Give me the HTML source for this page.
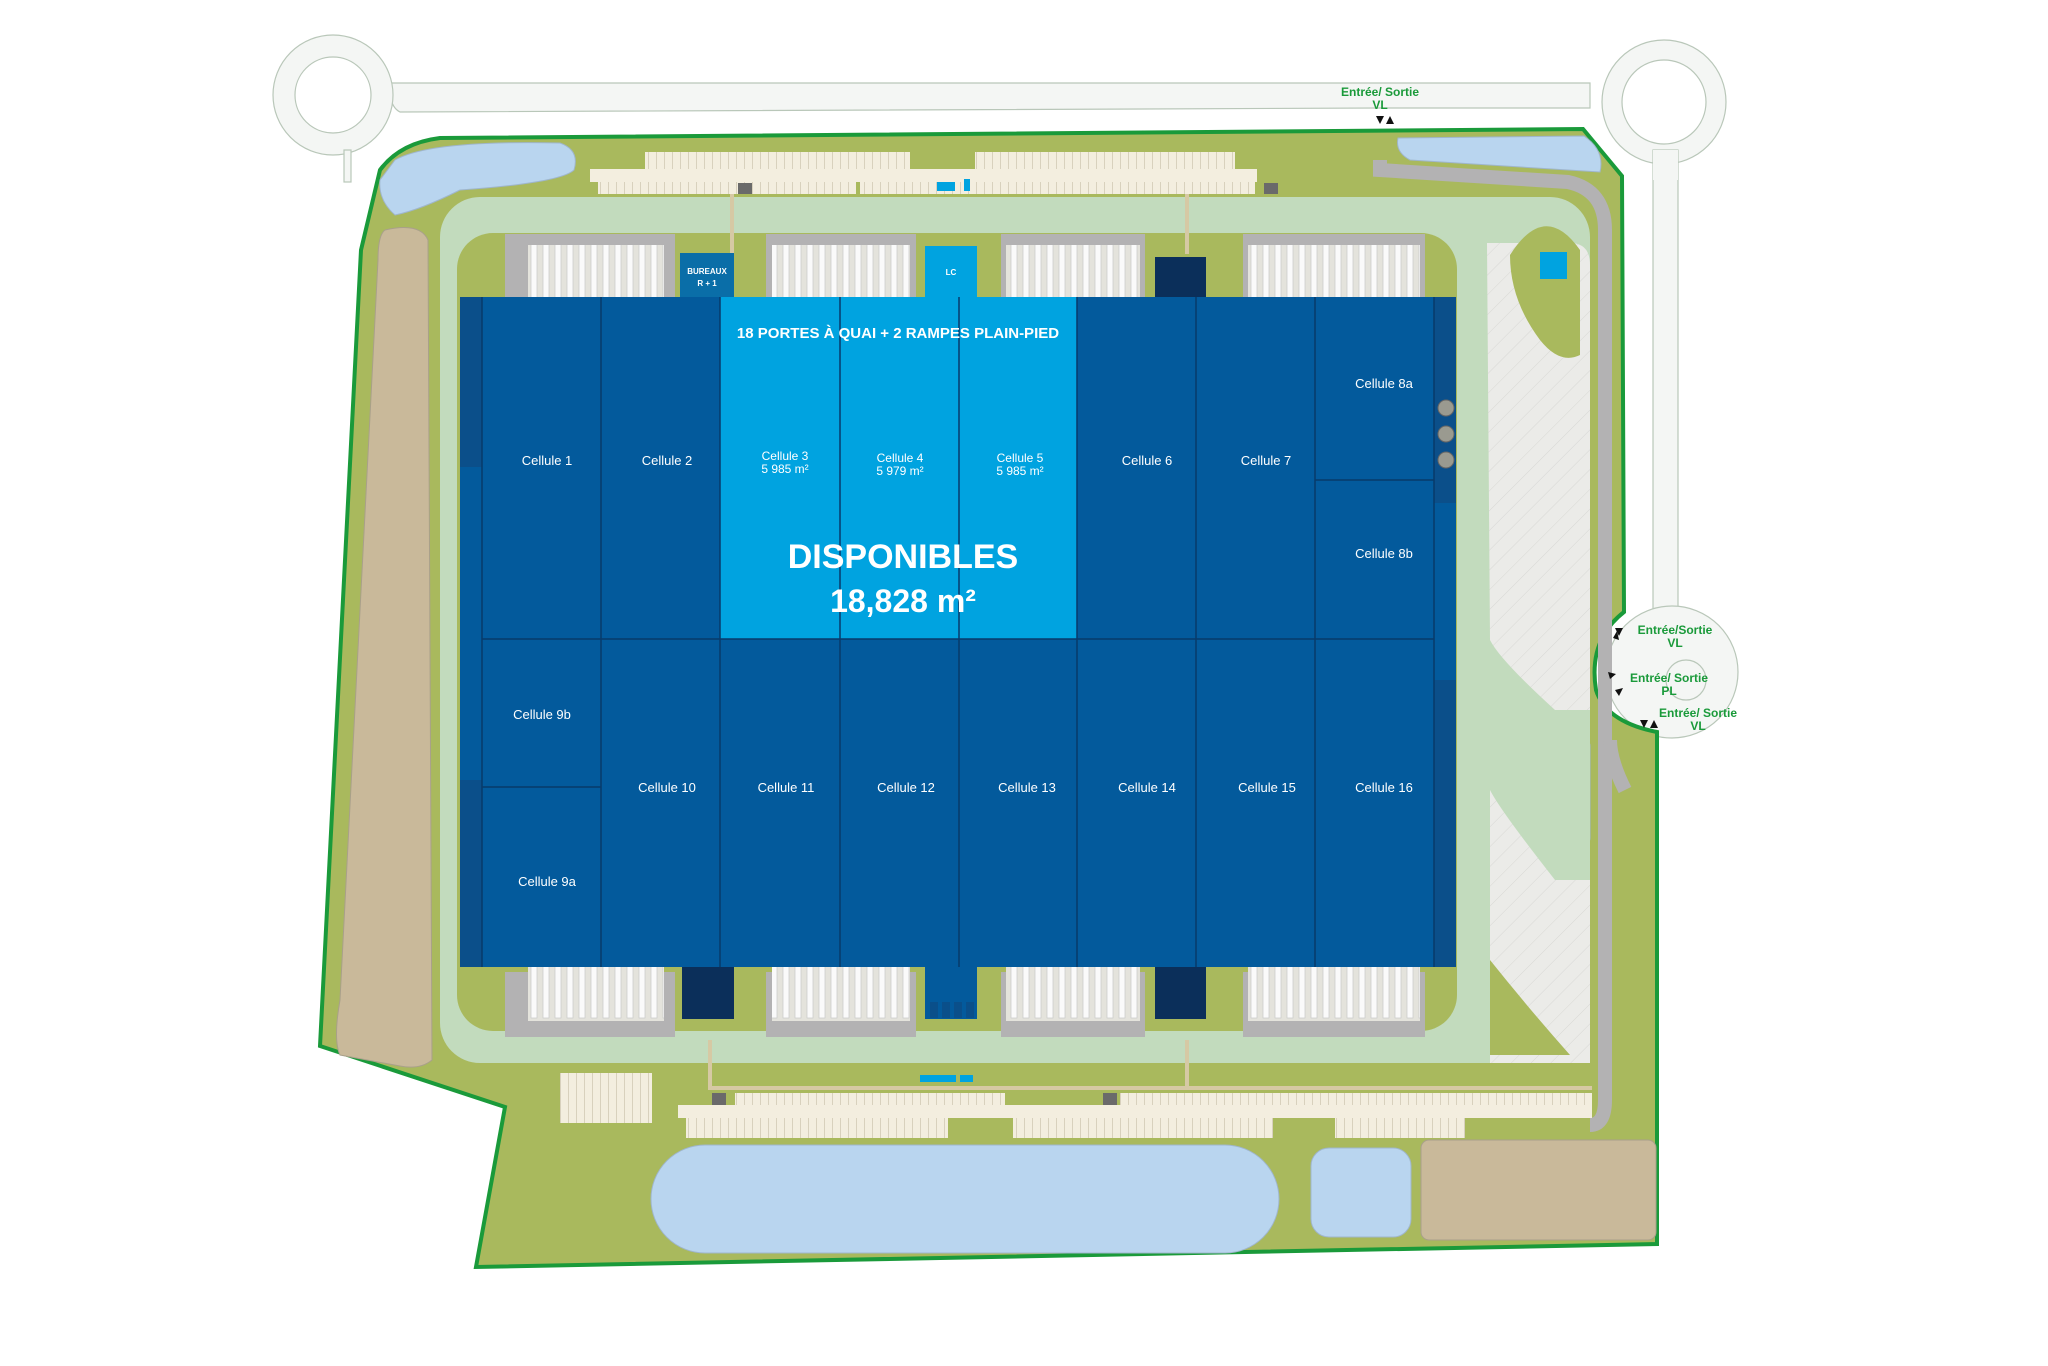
<!DOCTYPE html>
<html><head><meta charset="utf-8"><style>
html,body{margin:0;padding:0;background:#fff}
svg{display:block}
text{font-family:"Liberation Sans",sans-serif}
</style></head><body>
<svg width="2048" height="1366" viewBox="0 0 2048 1366" xmlns="http://www.w3.org/2000/svg">
<defs>
<pattern id="truck" width="12" height="60" patternUnits="userSpaceOnUse">
<rect width="12" height="60" fill="#e4e3dc"/><rect x="3" y="2" width="6" height="56" fill="#fafafa" stroke="#c8c8c8" stroke-width="0.7"/>
</pattern>
<pattern id="park" width="8" height="20" patternUnits="userSpaceOnUse">
<rect width="8" height="20" fill="#f3eedf"/><line x1="0.5" y1="0" x2="0.5" y2="20" stroke="#d8d1bd" stroke-width="1"/>
</pattern>
<pattern id="hatch" width="14" height="14" patternUnits="userSpaceOnUse" patternTransform="rotate(45)">
<rect width="14" height="14" fill="#ebebe8"/><line x1="0" y1="0" x2="0" y2="14" stroke="#d8d8d4" stroke-width="1"/>
</pattern>
</defs>

<!-- top road -->
<g fill="#f4f6f4" stroke="#b9c7b9" stroke-width="1.2">
<path d="M388,83 L1590,83 L1590,108 L1380,108 L400,112 Q392,108 390,95 Z"/>
<circle cx="333" cy="95" r="60"/>
<circle cx="1664" cy="102" r="62"/>
<rect x="1653" y="150" width="25" height="480"/>
<rect x="344" y="150" width="7" height="32"/>
</g>
<circle cx="333" cy="95" r="38" fill="#fff" stroke="#b9c7b9" stroke-width="1.2"/>
<circle cx="1664" cy="102" r="42" fill="#fff" stroke="#b9c7b9" stroke-width="1.2"/>
<rect x="1653" y="150" width="25" height="30" fill="#f4f6f4"/>

<!-- right entrance circle -->
<circle cx="1672" cy="672" r="66" fill="#f4f6f4" stroke="#b9c7b9" stroke-width="1.2"/>
<circle cx="1686" cy="680" r="20" fill="none" stroke="#b9c7b9" stroke-width="1.2"/>

<!-- site polygon -->
<path d="M440,138 L1583,129 L1622,176 L1624,612 Q1588,640 1596,690 Q1606,722 1657,732 L1657,1244 L476,1267 L505,1107 L320,1046 L361,250 L380,170 Q400,143 440,138 Z" fill="#a9b95d" stroke="#1a9a3a" stroke-width="4"/>

<!-- tan left strip -->
<path d="M385,230 Q420,222 428,240 L432,1060 Q420,1070 400,1066 L340,1055 Q333,1040 340,1000 L378,260 Q378,235 385,230 Z" fill="#c9b99a" stroke="#a9a08a" stroke-width="1"/>

<!-- ponds -->
<path d="M395,160 Q430,140 560,143 Q580,150 574,170 Q560,183 460,190 Q420,210 395,215 Q378,200 380,180 Z" fill="#b9d5ef" stroke="#9fb6cc"/>
<path d="M1398,138 L1584,136 Q1605,150 1600,172 L1410,160 Q1395,152 1398,138 Z" fill="#b9d5ef" stroke="#9fb6cc"/>
<rect x="651" y="1145" width="628" height="108" rx="54" fill="#b9d5ef" stroke="#9fb6cc"/>
<rect x="1311" y="1148" width="100" height="89" rx="18" fill="#b9d5ef" stroke="#9fb6cc"/>
<rect x="1421" y="1140" width="235" height="100" rx="8" fill="#c9b99a" stroke="#a9a08a"/>
<rect x="1548" y="738" width="42" height="108" rx="8" fill="#b9d5ef" stroke="#9fb6cc"/>

<!-- grey ring road right -->
<path d="M1380,160 L1380,170 L1568,182 Q1605,190 1605,230 L1605,1100 Q1605,1125 1590,1125" fill="none" stroke="#b3b2b3" stroke-width="14"/>
<path d="M1625,790 Q1610,760 1610,740" fill="none" stroke="#b3b2b3" stroke-width="14"/>

<!-- light green ring -->
<rect x="440" y="197" width="1150" height="866" rx="40" fill="#c2dbbd"/>
<path d="M1487,243 L1570,243 Q1590,243 1590,265 L1590,710 L1555,710 Q1500,660 1490,640 Z" fill="url(#hatch)"/>
<path d="M1490,790 Q1500,810 1555,880 L1590,880 L1590,1063 L1490,1063 Z" fill="url(#hatch)"/>
<path d="M1510,255 Q1545,200 1580,250 L1580,355 Q1560,365 1540,340 Q1510,300 1510,255 Z" fill="#a9b95d"/>
<rect x="1540" y="252" width="27" height="27" fill="#00a3e0"/>
<path d="M1490,960 Q1530,1010 1570,1055 L1490,1055 Z" fill="#a9b95d"/>

<!-- inner olive around building -->
<rect x="457" y="233" width="1000" height="798" rx="36" fill="#a9b95d"/>

<!-- top parking -->
<rect x="645" y="152" width="265" height="17" fill="url(#park)"/>
<rect x="975" y="152" width="260" height="17" fill="url(#park)"/>
<rect x="590" y="169" width="667" height="13" fill="#f3eedf"/>
<rect x="598" y="182" width="258" height="12" fill="url(#park)"/>
<rect x="860" y="182" width="395" height="12" fill="url(#park)"/>
<rect x="738" y="183" width="14" height="11" fill="#6a6a6a"/>
<rect x="1264" y="183" width="14" height="11" fill="#6a6a6a"/>
<rect x="937" y="182" width="18" height="9" fill="#00a3e0"/><rect x="964" y="179" width="6" height="12" fill="#00a3e0"/>
<rect x="730" y="194" width="4" height="60" fill="#d6c9a4"/>
<rect x="1185" y="194" width="4" height="60" fill="#d6c9a4"/>

<!-- bottom parking -->
<rect x="735" y="1093" width="270" height="12" fill="url(#park)"/>
<rect x="1120" y="1093" width="472" height="12" fill="url(#park)"/>
<rect x="678" y="1105" width="914" height="13" fill="#f3eedf"/>
<rect x="686" y="1118" width="262" height="20" fill="url(#park)"/>
<rect x="1013" y="1118" width="260" height="20" fill="url(#park)"/>
<rect x="1335" y="1118" width="130" height="20" fill="url(#park)"/>
<rect x="560" y="1073" width="92" height="50" fill="url(#park)"/>
<rect x="712" y="1093" width="14" height="12" fill="#6a6a6a"/>
<rect x="1103" y="1093" width="14" height="12" fill="#6a6a6a"/>
<path d="M710,1040 L710,1088 L1592,1088" fill="none" stroke="#d6c9a4" stroke-width="4"/>
<rect x="1185" y="1040" width="4" height="48" fill="#d6c9a4"/>
<rect x="920" y="1075" width="36" height="7" fill="#00a3e0"/><rect x="960" y="1075" width="13" height="7" fill="#00a3e0"/>

<!-- docks -->
<g>
<rect x="505" y="234" width="170" height="65" fill="#b3b2b3"/>
<rect x="766" y="234" width="150" height="65" fill="#b3b2b3"/>
<rect x="1001" y="234" width="144" height="65" fill="#b3b2b3"/>
<rect x="1243" y="234" width="182" height="65" fill="#b3b2b3"/>
<rect x="528" y="245" width="136" height="54" fill="url(#truck)"/>
<rect x="772" y="245" width="138" height="54" fill="url(#truck)"/>
<rect x="1006" y="245" width="134" height="54" fill="url(#truck)"/>
<rect x="1248" y="245" width="172" height="54" fill="url(#truck)"/>
<rect x="505" y="972" width="170" height="65" fill="#b3b2b3"/>
<rect x="766" y="972" width="150" height="65" fill="#b3b2b3"/>
<rect x="1001" y="972" width="144" height="65" fill="#b3b2b3"/>
<rect x="1243" y="972" width="182" height="65" fill="#b3b2b3"/>
<rect x="528" y="967" width="136" height="54" fill="url(#truck)"/>
<rect x="772" y="967" width="138" height="54" fill="url(#truck)"/>
<rect x="1006" y="967" width="134" height="54" fill="url(#truck)"/>
<rect x="1248" y="967" width="172" height="54" fill="url(#truck)"/>
</g>

<!-- offices -->
<rect x="680" y="253" width="54" height="44" fill="#0a6ea8"/>
<text x="707" y="274" font-size="8" fill="#fff" text-anchor="middle" font-weight="bold">BUREAUX</text>
<text x="707" y="286" font-size="8" fill="#fff" text-anchor="middle" font-weight="bold">R + 1</text>
<rect x="925" y="246" width="52" height="51" fill="#00a3e0"/>
<text x="951" y="275" font-size="8" fill="#fff" text-anchor="middle" font-weight="bold">LC</text>
<rect x="1155" y="257" width="51" height="40" fill="#0b2f5a"/>
<rect x="682" y="967" width="52" height="52" fill="#0b2f5a"/>
<rect x="1155" y="967" width="51" height="52" fill="#0b2f5a"/>
<rect x="925" y="967" width="52" height="52" fill="#035a9c"/>
<g fill="#0a4f8a"><rect x="930" y="1002" width="8" height="16"/><rect x="942" y="1002" width="8" height="16"/><rect x="954" y="1002" width="8" height="16"/><rect x="966" y="1002" width="8" height="16"/></g>

<!-- building -->
<rect x="460" y="297" width="996" height="670" fill="#035a9c"/>
<rect x="720" y="297" width="357" height="342" fill="#00a3e0"/>
<rect x="460" y="297" width="22" height="170" fill="#0b4f8a"/>
<rect x="460" y="780" width="22" height="187" fill="#0b4f8a"/>
<rect x="1434" y="297" width="22" height="206" fill="#0b4f8a"/>
<rect x="1434" y="680" width="22" height="287" fill="#0b4f8a"/>
<g stroke="#083a6a" stroke-width="1.5" fill="none">
<line x1="482" y1="297" x2="482" y2="967"/>
<line x1="601" y1="297" x2="601" y2="967"/>
<line x1="720" y1="297" x2="720" y2="967"/>
<line x1="840" y1="297" x2="840" y2="967"/>
<line x1="959" y1="297" x2="959" y2="967"/>
<line x1="1077" y1="297" x2="1077" y2="967"/>
<line x1="1196" y1="297" x2="1196" y2="967"/>
<line x1="1315" y1="297" x2="1315" y2="967"/>
<line x1="1434" y1="297" x2="1434" y2="967"/>
<line x1="482" y1="639" x2="1434" y2="639"/>
<line x1="482" y1="787" x2="601" y2="787"/>
<line x1="1315" y1="480" x2="1434" y2="480"/>
</g>
<g fill="#9a9a90" stroke="#666" stroke-width="1">
<circle cx="1446" cy="408" r="8"/><circle cx="1446" cy="434" r="8"/><circle cx="1446" cy="460" r="8"/>
</g>

<!-- labels -->
<g fill="#fff" font-size="13" text-anchor="middle">
<text x="898" y="338" font-size="15" font-weight="bold">18 PORTES À QUAI + 2 RAMPES PLAIN-PIED</text>
<text x="547" y="465">Cellule 1</text>
<text x="667" y="465">Cellule 2</text>
<text x="785" y="460" font-size="12">Cellule 3</text><text x="785" y="473" font-size="12">5 985 m²</text>
<text x="900" y="462" font-size="12">Cellule 4</text><text x="900" y="475" font-size="12">5 979 m²</text>
<text x="1020" y="462" font-size="12">Cellule 5</text><text x="1020" y="475" font-size="12">5 985 m²</text>
<text x="1147" y="465">Cellule 6</text>
<text x="1266" y="465">Cellule 7</text>
<text x="1384" y="388">Cellule 8a</text>
<text x="1384" y="558">Cellule 8b</text>
<text x="542" y="719">Cellule 9b</text>
<text x="547" y="886">Cellule 9a</text>
<text x="667" y="792">Cellule 10</text>
<text x="786" y="792">Cellule 11</text>
<text x="906" y="792">Cellule 12</text>
<text x="1027" y="792">Cellule 13</text>
<text x="1147" y="792">Cellule 14</text>
<text x="1267" y="792">Cellule 15</text>
<text x="1384" y="792">Cellule 16</text>
<text x="903" y="568" font-size="34" font-weight="bold">DISPONIBLES</text>
<text x="903" y="612" font-size="32" font-weight="bold">18,828 m²</text>
</g>

<!-- entrance labels -->
<g fill="#1a9a3a" font-size="12" font-weight="bold" text-anchor="middle">
<text x="1380" y="96">Entrée/ Sortie</text><text x="1380" y="109">VL</text>
<text x="1675" y="634">Entrée/Sortie</text><text x="1675" y="647">VL</text>
<text x="1669" y="682">Entrée/ Sortie</text><text x="1669" y="695">PL</text>
<text x="1698" y="717">Entrée/ Sortie</text><text x="1698" y="730">VL</text>
</g>
<g fill="#111">
<path d="M1376,116 l8,0 l-4,8 z"/><path d="M1386,124 l8,0 l-4,-8 z"/>
<path d="M1615,628 l8,0 l-4,8 z"/><path d="M1619,640 l-6,-2 l4,-7 z"/>
<path d="M1608,672 l8,2 l-6,5 z"/><path d="M1615,690 l8,-2 l-4,8 z"/>
<path d="M1640,720 l8,0 l-4,8 z"/><path d="M1650,728 l8,0 l-4,-8 z"/>
</g>
</svg>
</body></html>
